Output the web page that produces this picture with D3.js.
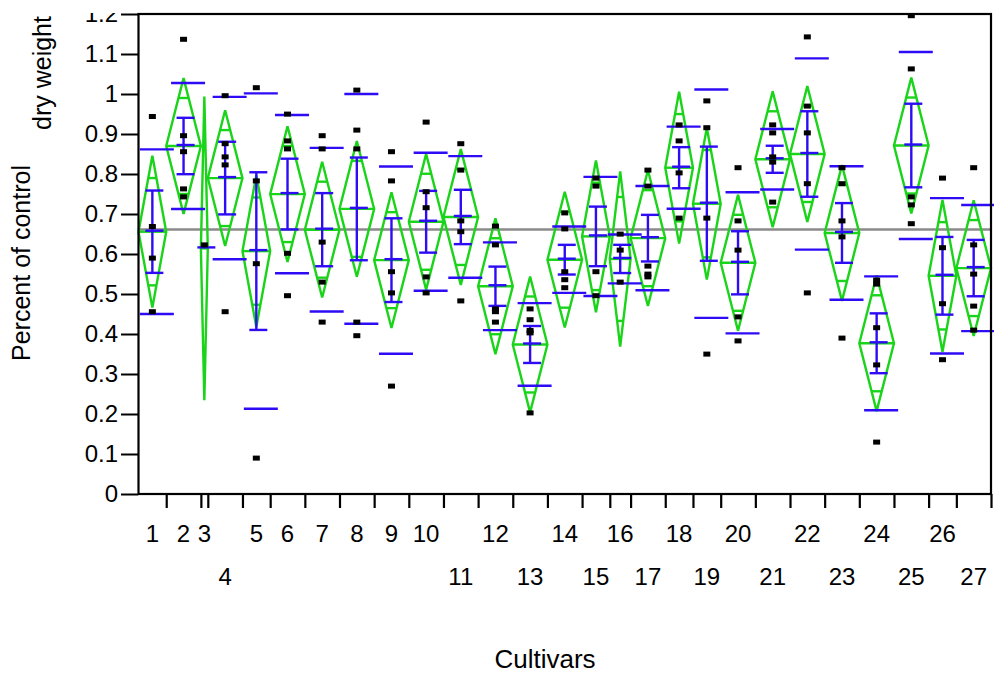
<!DOCTYPE html>
<html>
<head>
<meta charset="utf-8">
<script src="https://cdn.jsdelivr.net/npm/d3@7"></script>
<style>
body { margin: 0; background: #fff; }
text { font-family: "Liberation Sans", Arial, sans-serif; fill: #000; }
</style>
</head>
<body>
<script>
//SVG dimension variables
var w = 994, h = 675;

//cultivar names, in plot order
var cultivars = ["1","2","3","4","5","6","7","8","9","10","11","12","13","14",
    "15","16","17","18","19","20","21","22","23","24","25","26","27"];

//percent of control dry weight, one list of plants per cultivar
var dryWeight = [
    [0.935, 0.660, 0.581, 0.447],          //1
    [1.128, 0.887, 0.847, 0.754, 0.734],   //2
    [0.614],                               //3
    [0.987, 0.867, 0.834, 0.814, 0.447],   //4
    [1.007, 0.774, 0.567, 0.081],          //5
    [0.941, 0.874, 0.854, 0.593, 0.487],   //6
    [0.887, 0.854, 0.621, 0.521, 0.421],   //7
    [1.001, 0.901, 0.854, 0.421, 0.387],   //8
    [0.847, 0.774, 0.547, 0.494, 0.261],   //9
    [0.921, 0.747, 0.707, 0.534, 0.494],   //10
    [0.867, 0.801, 0.674, 0.647, 0.474],   //11
    [0.661, 0.614, 0.454, 0.447, 0.421],   //12
    [0.454, 0.427, 0.400, 0.394, 0.194],   //13
    [0.694, 0.654, 0.547, 0.527, 0.507],   //14
    [0.781, 0.761, 0.547, 0.487],          //15
    [0.641, 0.601, 0.521],                 //16
    [0.801, 0.761, 0.561, 0.541, 0.534],   //17
    [0.914, 0.874, 0.794, 0.681],          //18
    [0.974, 0.907, 0.681, 0.341],          //19
    [0.807, 0.674, 0.601, 0.434, 0.374],   //20
    [0.914, 0.894, 0.834, 0.821, 0.721],   //21
    [1.134, 0.961, 0.894, 0.767, 0.494],   //22
    [0.807, 0.767, 0.674, 0.634, 0.381],   //23
    [0.526, 0.516, 0.407, 0.314, 0.121],   //24
    [1.187, 1.054, 0.734, 0.714, 0.667],   //25
    [0.781, 0.607, 0.467, 0.327],          //26
    [0.807, 0.614, 0.541, 0.461, 0.401]    //27
];

//y tick values
var yTicks = [0, 0.1, 0.2, 0.3, 0.4, 0.5, 0.6, 0.7, 0.8, 0.9, 1, 1.1, 1.2];

//labels that JMP pushed down to the second row
var lowerLabels = ["4","11","13","15","17","19","21","23","25","27"];

//t quantile (0.975) for the error df of the oneway fit
var tCrit = 1.985;

var green = "#19d419", blue = "#2d0cf5";

var svg = d3.select("body")
    .append("svg")
    .attr("width", w)
    .attr("height", h);

//x widths proportional to group size, like JMP
var counts = dryWeight.map(function(d){ return d.length; });
var ends = Array.from(d3.cumsum(counts));
var total = d3.sum(counts);

var x = d3.scaleLinear()
    .domain([0, total])
    .range([138.5, 991]);

var y = d3.scaleLinear()
    .domain([0, 1.2])
    .range([494, 14]);

//pooled sd for the means diamonds
var sse = d3.sum(dryWeight, function(v){
    var m = d3.mean(v);
    return d3.sum(v, function(d){ return (d - m) * (d - m); });
});
var sp = Math.sqrt(sse / (total - dryWeight.length));
var grandMean = d3.mean(d3.merge(dryWeight));

var groups = dryWeight.map(function(vals, i){
    var n = vals.length;
    var start = ends[i] - n;
    var sd = n > 1 ? d3.deviation(vals) : 0;
    return {
        name: cultivars[i],
        vals: vals,
        n: n,
        x0: x(start),
        x1: x(ends[i]),
        cx: x(start + n / 2),
        mean: d3.mean(vals),
        sd: sd,
        se: sd / Math.sqrt(n),
        ci: tCrit * sp / Math.sqrt(n)
    };
});

//grand mean line
svg.append("line")
    .attr("x1", x(0)).attr("x2", x(total))
    .attr("y1", y(grandMean)).attr("y2", y(grandMean))
    .style("stroke", "#8a8a8a")
    .style("stroke-width", 2.5);

//means diamonds
var diamonds = svg.selectAll(".diamond")
    .data(groups)
    .enter()
    .append("g")
    .attr("class", "diamond")
    .style("fill", "none")
    .style("stroke", green)
    .style("stroke-width", 2.4);

diamonds.append("polygon")
    .attr("points", function(d){
        return [[d.x0, y(d.mean)], [d.cx, y(d.mean + d.ci)],
                [d.x1, y(d.mean)], [d.cx, y(d.mean - d.ci)]].join(" ");
    });

diamonds.append("line")
    .attr("x1", function(d){ return d.x0; })
    .attr("x2", function(d){ return d.x1; })
    .attr("y1", function(d){ return y(d.mean); })
    .attr("y2", function(d){ return y(d.mean); });

//overlap marks at mean +/- ci/sqrt(2)
[1, -1].forEach(function(s){
    diamonds.append("line")
        .attr("x1", function(d){ return d.cx - (d.x1 - d.x0) / 2 * (1 - Math.SQRT1_2); })
        .attr("x2", function(d){ return d.cx + (d.x1 - d.x0) / 2 * (1 - Math.SQRT1_2); })
        .attr("y1", function(d){ return y(d.mean + s * d.ci * Math.SQRT1_2); })
        .attr("y2", function(d){ return y(d.mean + s * d.ci * Math.SQRT1_2); });
});

//std dev lines and mean error bars
var bars = svg.selectAll(".bars")
    .data(groups)
    .enter()
    .append("g")
    .attr("class", "bars")
    .style("stroke", blue)
    .style("stroke-width", 2.4);

[1, -1].forEach(function(s){
    bars.filter(function(d){ return d.n > 1; })
        .append("line")
        .attr("x1", function(d){ return d.cx - 12.5; })
        .attr("x2", function(d){ return d.cx + 21.5; })
        .attr("y1", function(d){ return y(d.mean + s * d.sd); })
        .attr("y2", function(d){ return y(d.mean + s * d.sd); });

    bars.filter(function(d){ return d.n > 1; })
        .append("line")
        .attr("x1", function(d){ return d.cx - 7; })
        .attr("x2", function(d){ return d.cx + 11; })
        .attr("y1", function(d){ return y(d.mean + s * d.se); })
        .attr("y2", function(d){ return y(d.mean + s * d.se); });
});

bars.filter(function(d){ return d.n > 1; })
    .append("line")
    .attr("x1", function(d){ return d.cx; })
    .attr("x2", function(d){ return d.cx; })
    .attr("y1", function(d){ return y(d.mean + d.se); })
    .attr("y2", function(d){ return y(d.mean - d.se); });

bars.append("line")
    .attr("x1", function(d){ return d.cx - 7; })
    .attr("x2", function(d){ return d.cx + 11; })
    .attr("y1", function(d){ return y(d.mean) - 1; })
    .attr("y2", function(d){ return y(d.mean) - 1; });

//data points (JMP draws the marker a little above the value)
var points = svg.selectAll(".pt")
    .data(groups.flatMap(function(g){
        return g.vals.map(function(v){ return {cx: g.cx, v: v}; });
    }))
    .enter()
    .append("rect")
    .attr("class", "pt")
    .attr("x", function(d){ return d.cx - 3.5; })
    .attr("y", function(d){ return y(d.v) - 6; })
    .attr("width", 7)
    .attr("height", 5)
    .style("fill", "#000");

//frame
svg.append("rect")
    .attr("x", x(0)).attr("y", y(1.2))
    .attr("width", x(total) - x(0))
    .attr("height", y(0) - y(1.2))
    .style("fill", "none")
    .style("stroke", "#000")
    .style("stroke-width", 2.2);

//y axis, top label gets cut by the frame like the original
svg.append("clipPath")
    .attr("id", "yclip")
    .append("rect")
    .attr("x", -140).attr("y", 13)
    .attr("width", 140).attr("height", 500);

var yAxis = d3.axisLeft(y)
    .tickValues(yTicks)
    .tickSize(17.5)
    .tickSizeOuter(0)
    .tickPadding(3)
    .tickFormat(d3.format(".1~f"));

var yg = svg.append("g")
    .attr("transform", "translate(" + x(0) + ",0)")
    .attr("clip-path", "url(#yclip)")
    .call(yAxis);
yg.select(".domain").remove();
yg.selectAll("line").style("stroke", "#000").style("stroke-width", 2.2);
yg.selectAll("text")
    .attr("font-size", 24)
    .attr("font-family", "Liberation Sans, Arial, sans-serif");

//x axis ticks at the group boundaries
var xAxis = d3.axisBottom(x)
    .tickValues(ends)
    .tickSize(14)
    .tickSizeOuter(0)
    .tickFormat("");

var xg = svg.append("g")
    .attr("transform", "translate(0," + y(0) + ")")
    .call(xAxis);
xg.select(".domain").remove();
xg.selectAll("line").style("stroke", "#000").style("stroke-width", 2.2);

//cultivar labels, two rows
svg.selectAll(".xlab")
    .data(groups)
    .enter()
    .append("text")
    .attr("class", "xlab")
    .attr("text-anchor", "middle")
    .attr("font-size", 24)
    .attr("x", function(d){ return d.cx; })
    .attr("y", function(d){ return lowerLabels.indexOf(d.name) >= 0 ? 585 : 542; })
    .text(function(d){ return d.name; });

//axis titles
svg.append("text")
    .attr("text-anchor", "middle")
    .attr("font-size", 26)
    .attr("x", 545)
    .attr("y", 668)
    .text("Cultivars");

svg.append("text")
    .attr("text-anchor", "middle")
    .attr("font-size", 25)
    .attr("transform", "translate(30,263) rotate(-90)")
    .text("Percent of control");

svg.append("text")
    .attr("text-anchor", "middle")
    .attr("font-size", 25)
    .attr("transform", "translate(51,73) rotate(-90)")
    .text("dry weight");
</script>
</body>
</html>
